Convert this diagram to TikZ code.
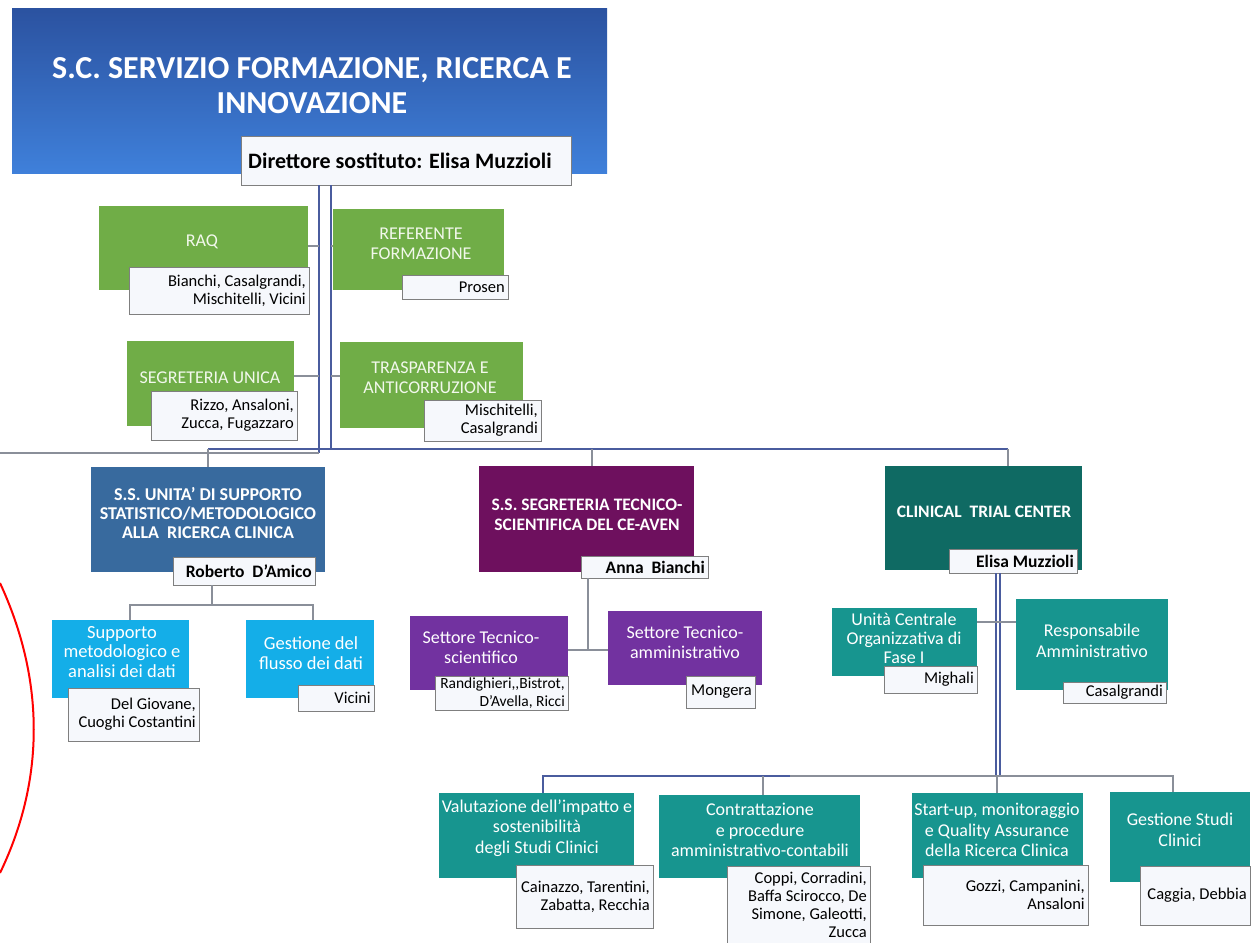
\documentclass[tikz,border=0pt]{standalone}
\usepackage{fontspec}
\setmainfont{Carlito}
\usetikzlibrary{fit}
\definecolor{tTop}{HTML}{2B52A0}
\definecolor{tBot}{HTML}{3F80DA}
\definecolor{gFill}{HTML}{70AD47}
\definecolor{gText}{HTML}{F2F8EC}
\definecolor{sBlue}{HTML}{386A9E}
\definecolor{lBlue}{HTML}{14AEE8}
\definecolor{dPurp}{HTML}{6E105E}
\definecolor{purp}{HTML}{7232A0}
\definecolor{dTeal}{HTML}{0F6A63}
\definecolor{teal2}{HTML}{17958F}
\definecolor{subFill}{HTML}{F6F8FC}
\definecolor{subLine}{HTML}{7F7F7F}
\definecolor{trunkC}{HTML}{4A5C9E}
\definecolor{lineC}{HTML}{8A8F99}
\tikzset{
  base/.style={inner sep=0pt, outer sep=0pt},
  tbox/.style={base, top color=tTop, bottom color=tBot},
  tbox-t/.style={text=white, font=\fontsize{32}{35}\selectfont\bfseries, align=center},
  dbox/.style={base, draw=subLine, fill=subFill, line width=0.8pt},
  dbox-t/.style={text=black, font=\fontsize{22}{24}\selectfont\bfseries, align=center},
  gbox/.style={base, fill=gFill},
  gbox-t/.style={text=gText, font=\fontsize{18}{20}\selectfont, align=center},
  sbox/.style={base, fill=sBlue},
  sbox-t/.style={text=white, font=\fontsize{18}{19}\selectfont\bfseries, align=center},
  lbox/.style={base, fill=lBlue},
  lbox-t/.style={text=white, font=\fontsize{18.5}{19.5}\selectfont, align=center},
  dpbox/.style={base, fill=dPurp},
  dpbox-t/.style={text=white, font=\fontsize{17.5}{20}\selectfont\bfseries, align=center},
  pbox/.style={base, fill=purp},
  pbox-t/.style={text=white, font=\fontsize{18}{20}\selectfont, align=center},
  dtbox/.style={base, fill=dTeal},
  dtbox-t/.style={text=white, font=\fontsize{17.5}{20}\selectfont\bfseries, align=center},
  tlbox/.style={base, fill=teal2},
  tlbox-t/.style={text=white, font=\fontsize{18}{20.5}\selectfont, align=center},
  ucbox/.style={tlbox},
  ucbox-t/.style={tlbox-t, font=\fontsize{18}{19}\selectfont},
  subb/.style={base, draw=subLine, fill=subFill, line width=0.8pt},
  subt/.style={inner sep=0pt, text=black, align=right, font=\fontsize{16.5}{18}\selectfont},
  subsm/.style={subt, font=\fontsize{15.5}{18}\selectfont},
  subbold/.style={inner sep=0pt, text=black, align=right, font=\fontsize{17.5}{19}\selectfont\bfseries},
  trunk/.style={draw=trunkC, line width=1.4pt},
  conn/.style={draw=lineC, line width=1.2pt},
}
\newcommand\mybox[9]{%
  \node[#2, fit={(#3,#4) (#5,#6)}] (#1) {};
  \node[#2-t] (#1-t) at (#7,#8) {#9};
}
\newcommand\mysub[7]{%
  \node[subb, fit={(#2,#3) (#4,#5)}] (#1) {};
  \node[#7, anchor=east, xshift=-3pt] (#1-t) at (#1.east) {#6};
}
\begin{document}
\begin{tikzpicture}[x=1pt,y=-1pt]
\useasboundingbox[fill=white] (0,0) rectangle (1254,943);

% title
\mybox{title}{tbox}{12}{8}{607}{173}{312}{86}{S.C. SERVIZIO FORMAZIONE, RICERCA E\\INNOVAZIONE}
\mybox{dir}{dbox}{241}{136}{571}{185}{400}{161}{Direttore sostituto: Elisa Muzzioli}

% staff (green)
\mybox{raq}{gbox}{99}{206}{308}{290}{202}{242}{RAQ}
\mysub{raqs}{129}{267}{309}{314}{Bianchi, Casalgrandi,\\Mischitelli, Vicini}{subt}
\mybox{ref}{gbox}{333}{209}{504}{290}{421}{244}{REFERENTE\\FORMAZIONE}
\mysub{refs}{402}{275}{508}{299}{Prosen}{subt}
\mybox{seg}{gbox}{127}{341}{294}{426}{210}{378}{SEGRETERIA UNICA}
\mysub{segs}{151}{391}{297}{440}{Rizzo, Ansaloni,\\Zucca, Fugazzaro}{subt}
\mybox{tras}{gbox}{340}{342}{523}{428}{430}{378}{TRASPARENZA E\\ANTICORRUZIONE}
\mysub{trass}{424}{400}{541}{441}{Mischitelli,\\Casalgrandi}{subt}

% S.S. statistico
\mybox{ss}{sbox}{91}{467}{325}{572}{208}{513}{S.S. UNITA’ DI SUPPORTO\\STATISTICO/METODOLOGICO\\ALLA~~RICERCA CLINICA}
\mysub{dam}{173}{557}{315}{585}{Roberto~~D’Amico}{subbold}
\mybox{sup}{lbox}{52}{620}{189}{698}{122}{652}{Supporto\\metodologico e\\analisi dei dati}
\mysub{sups}{68}{688}{199}{741}{Del Giovane,\\Cuoghi Costantini}{subt}
\mybox{ges}{lbox}{246}{620}{374}{698}{311}{653}{Gestione del\\flusso dei dati}
\mysub{gess}{298}{685}{374}{711}{Vicini}{subt}

% S.S. segreteria
\mybox{ssp}{dpbox}{479}{466}{694}{572}{587}{515}{S.S. SEGRETERIA TECNICO-\\SCIENTIFICA DEL CE-AVEN}
\mysub{anna}{581}{556}{708}{578}{Anna~~Bianchi}{subbold}
\mybox{sts}{pbox}{410}{616}{568}{690}{481}{647}{Settore Tecnico-\\scientifico}
\mysub{stss}{435}{676}{568}{710}{Randighieri,{},Bistrot,\\D’Avella, Ricci}{subsm}
\mybox{sta}{pbox}{608}{611}{762}{685}{685}{642}{Settore Tecnico-\\amministrativo}
\mysub{stas}{686}{676}{755}{708}{Mongera}{subt}

% Clinical trial center
\mybox{ctc}{dtbox}{885}{466}{1082}{570}{984}{512}{CLINICAL~~TRIAL CENTER}
\mysub{eli}{949}{549}{1077}{573}{Elisa Muzzioli}{subbold}
\mybox{ucof}{ucbox}{832}{608}{977}{676}{904}{638}{Unità Centrale\\Organizzativa di\\Fase I}
\mysub{ucofs}{884}{666}{977}{693}{Mighali}{subt}
\mybox{resp}{tlbox}{1016}{599}{1168}{690}{1092}{641}{Responsabile\\Amministrativo}
\mysub{resps}{1063}{682}{1166}{703}{Casalgrandi}{subt}

\mybox{val}{tlbox}{439}{793}{634}{878}{537}{828}{Valutazione dell’impatto e\\sostenibilità\\degli Studi Clinici}
\mysub{vals}{516}{865}{653}{928}{Cainazzo, Tarentini,\\Zabatta, Recchia}{subt}
\mybox{con}{tlbox}{659}{795}{860}{878}{760}{830}{Contrattazione\\e procedure\\amministrativo-contabili}
\mysub{cons}{727}{866}{870}{943}{Coppi, Corradini,\\Baffa Scirocco, De\\Simone, Galeotti,\\Zucca}{subt}
\mybox{stu}{tlbox}{912}{793}{1083}{878}{997}{830}{Start-up, monitoraggio\\e Quality Assurance\\della Ricerca Clinica}
\mysub{stus}{923}{865}{1088}{925}{Gozzi, Campanini,\\Ansaloni}{subt}
\mybox{gsc}{tlbox}{1110}{792}{1250}{882}{1180}{830}{Gestione Studi\\Clinici}
\mysub{gscs}{1140}{866}{1250}{925}{Caggia, Debbia}{subt}

% ---- connectors ----
\coordinate (tL) at (319,453);
\coordinate (tR) at (331,449);
\coordinate (lEnd) at (0,453);
\coordinate (h1) at (208,449);
\coordinate (h2) at (592,449);
\coordinate (h3) at (1008,449);
\coordinate (s1) at (319,246);
\coordinate (s2) at (319,376);
\draw[trunk] (dir.south -| tL) -- (tL);
\draw[trunk] (dir.south -| tR) -- (tR);
\draw[conn] (lEnd) -- (tL);
\draw[trunk] (h1) -- (h3);
\draw[conn] (h1) -- (h1 |- ss.north);
\draw[conn] (h2) -- (h2 |- ssp.north);
\draw[conn] (h3) -- (h3 |- ctc.north);
\draw[conn] (raq.east |- s1) -- (s1);
\draw[conn] (tR |- s1) -- (ref.west |- s1);
\draw[conn] (seg.east |- s2) -- (s2);
\draw[conn] (tR |- s2) -- (tras.west |- s2);

% statistico subtree
\coordinate (j0) at (212,605);
\coordinate (j1) at (130,605);
\coordinate (j2) at (313,605);
\draw[conn] (j0 |- dam.south) -- (j0);
\draw[conn] (j1 |- sup.north) -- (j1) -- (j2) -- (j2 |- ges.north);

% segreteria subtree
\coordinate (p0) at (588,650);
\draw[conn] (p0 |- anna.south) -- (p0);
\draw[conn] (sts.east |- p0) -- (sta.west |- p0);

% CTC subtree
\coordinate (cL) at (996,776);
\coordinate (cR) at (1000,776);
\coordinate (c1) at (960,622);
\coordinate (b1) at (543,776);
\coordinate (b2) at (763,776);
\coordinate (bm) at (790,776);
\coordinate (b3) at (997,776);
\coordinate (b4) at (1173,776);
\draw[trunk, line width=1.1pt] (eli.south -| cL) -- (cL);
\draw[trunk, line width=1.1pt] (eli.south -| cR) -- (cR);
\draw[conn] (ucof.east |- c1) -- (resp.west |- c1);
\draw[trunk] (b1 |- val.north) -- (b1) -- (bm);
\draw[conn] (bm) -- (b4) -- (b4 |- gsc.north);
\draw[conn] (b2) -- (b2 |- con.north);
\draw[conn] (b3) -- (b3 |- stu.north);

% red arc
\coordinate (rA) at (0,583);
\coordinate (rB) at (0,873);
\draw[red, line width=2pt] (rA) .. controls (45,680) and (45,780) .. (rB);
\end{tikzpicture}
\end{document}
